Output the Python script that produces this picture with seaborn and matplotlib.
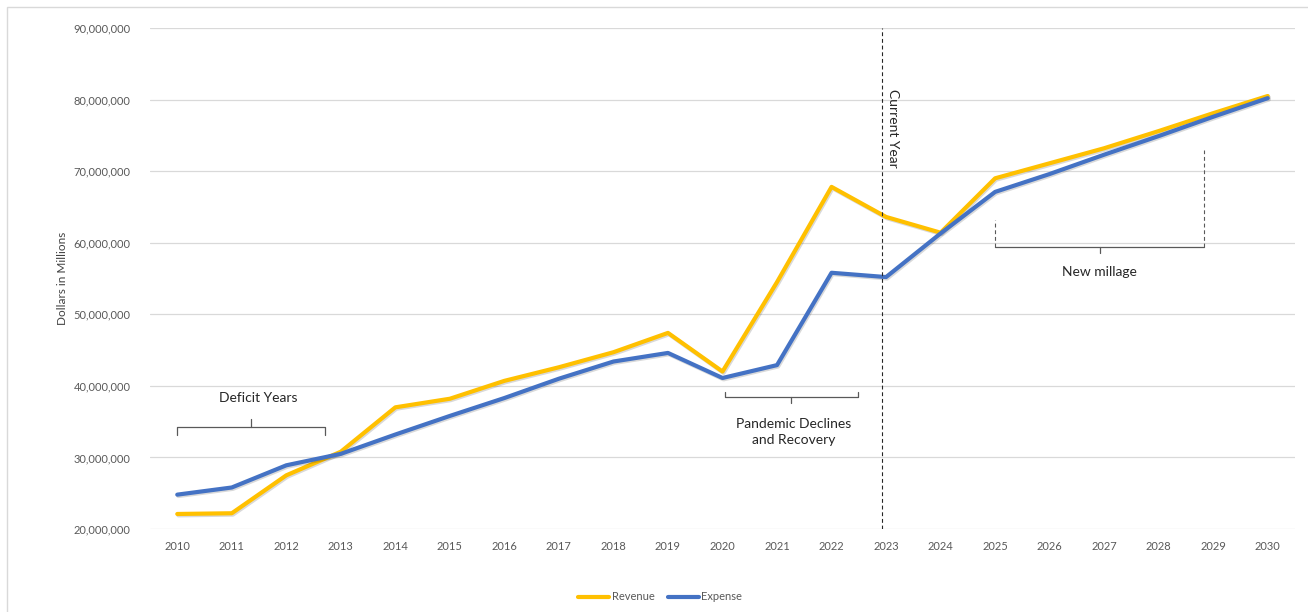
import matplotlib
matplotlib.use("Agg")
import matplotlib.pyplot as plt
import matplotlib.patheffects as pe
from matplotlib.patches import Rectangle
from matplotlib.ticker import FuncFormatter
import seaborn as sns
import pandas as pd

# data (dollars)
years = list(range(2010, 2031))
revenue = [22.1, 22.2, 27.5, 30.8, 37.0, 38.2, 40.7, 42.6, 44.7, 47.4, 42.0,
           54.5, 67.8, 63.6, 61.4, 69.0, 71.1, 73.2, 75.6, 78.1, 80.5]
expense = [24.8, 25.8, 28.9, 30.5, 33.2, 35.8, 38.3, 41.0, 43.4, 44.6, 41.1,
           42.9, 55.8, 55.2, 61.3, 67.1, 69.6, 72.3, 74.9, 77.6, 80.2]
series_names = ["Revenue", "Expense"]
colors = ["#FFC000", "#4472C4"]

df = pd.DataFrame({
    "Year": years * 2,
    "Value": [v * 1e6 for v in revenue + expense],
    "Series": ["Revenue"] * len(years) + ["Expense"] * len(years),
})

sns.set_style("white")
plt.rcParams["font.family"] = ["Lato", "DejaVu Sans"]

fig = plt.figure(figsize=(13.08, 6.12), dpi=100)
ax = fig.add_axes([150 / 1308, 1 - 529 / 612, (1295 - 150) / 1308, (529 - 28) / 612])

# chart area border (Excel style)
fig.patches.append(Rectangle((7 / 1308, -0.1), 1.2, 1 - 7 / 612 + 0.1,
                             transform=fig.transFigure, fill=False,
                             edgecolor="#D9D9D9", linewidth=1))

sns.lineplot(data=df, x="Year", y="Value", hue="Series", hue_order=series_names,
             palette=colors, linewidth=3.0, ax=ax, legend=False, zorder=3)
for ln in ax.lines:
    ln.set_path_effects([pe.SimpleLineShadow(offset=(0.8, -1.0), alpha=0.15),
                         pe.Normal()])

ax.set_xlim(2009.5, 2030.5)
ax.set_ylim(20e6, 90e6)
ax.set_xticks(years)
ax.set_yticks([v * 1e6 for v in range(20, 91, 10)])
ax.yaxis.set_major_formatter(FuncFormatter(lambda v, p: f"{int(v):,}"))
ax.tick_params(axis="both", length=0, labelsize=8, labelcolor="#595959")
ax.tick_params(axis="x", pad=9)
ax.tick_params(axis="y", pad=14)
ax.grid(axis="y", color="#D9D9D9", linewidth=0.9)
ax.grid(axis="x", visible=False)
for s in ax.spines.values():
    s.set_visible(False)
ax.set_xlabel("")
ax.set_ylabel("Dollars in Millions", fontsize=8.5, color="#404040", labelpad=4)

bc = "#595959"
# Deficit Years bracket
ax.plot([2010.0, 2010.0, 2012.71, 2012.71], [33.1e6, 34.25e6, 34.25e6, 33.1e6],
        color=bc, lw=0.9)
ax.plot([2011.36, 2011.36], [34.25e6, 35.4e6], color=bc, lw=0.9)
ax.text(2011.48, 38.3e6, "Deficit Years", ha="center", va="center",
        fontsize=10, color="#262626")

# Pandemic bracket
ax.plot([2020.05, 2020.05, 2022.48, 2022.48], [39.1e6, 38.45e6, 38.45e6, 39.1e6],
        color=bc, lw=0.9)
ax.plot([2021.26, 2021.26], [38.45e6, 37.6e6], color=bc, lw=0.9)
ax.text(2021.3, 33.6e6, "Pandemic Declines\nand Recovery", ha="center",
        va="center", multialignment="center", fontsize=10, color="#262626",
        linespacing=1.4)

# Current year marker
ax.axvline(2022.92, color="#262626", lw=0.8, ls=(0, (3.5, 2.5)), zorder=4)
ax.text(2023.12, 81.5e6, "Current Year", rotation=270, ha="center", va="top",
        fontsize=10, color="#262626")

# New millage bracket
ax.plot([2025.0, 2025.0], [59.4e6, 63.2e6], color=bc, lw=0.8, ls=(0, (3.5, 2.5)))
ax.plot([2028.83, 2028.83], [59.4e6, 72.95e6], color=bc, lw=0.8, ls=(0, (3.5, 2.5)))
ax.plot([2025.0, 2028.83], [59.4e6, 59.4e6], color=bc, lw=0.9)
ax.plot([2026.92, 2026.92], [59.4e6, 58.55e6], color=bc, lw=0.9)
ax.text(2026.92, 55.9e6, "New millage", ha="center", va="center",
        fontsize=10, color="#262626")

# legend at bottom
handles = [plt.Line2D([], [], color=c, lw=3.0) for c in colors]
fig.legend(handles, series_names, loc="center", bbox_to_anchor=(660 / 1308, 1 - 597 / 612),
           ncol=2, frameon=False, fontsize=8, labelcolor="#595959",
           handlelength=2.8, handletextpad=0.2, columnspacing=1.2)

fig.savefig("out.png", dpi=100)
